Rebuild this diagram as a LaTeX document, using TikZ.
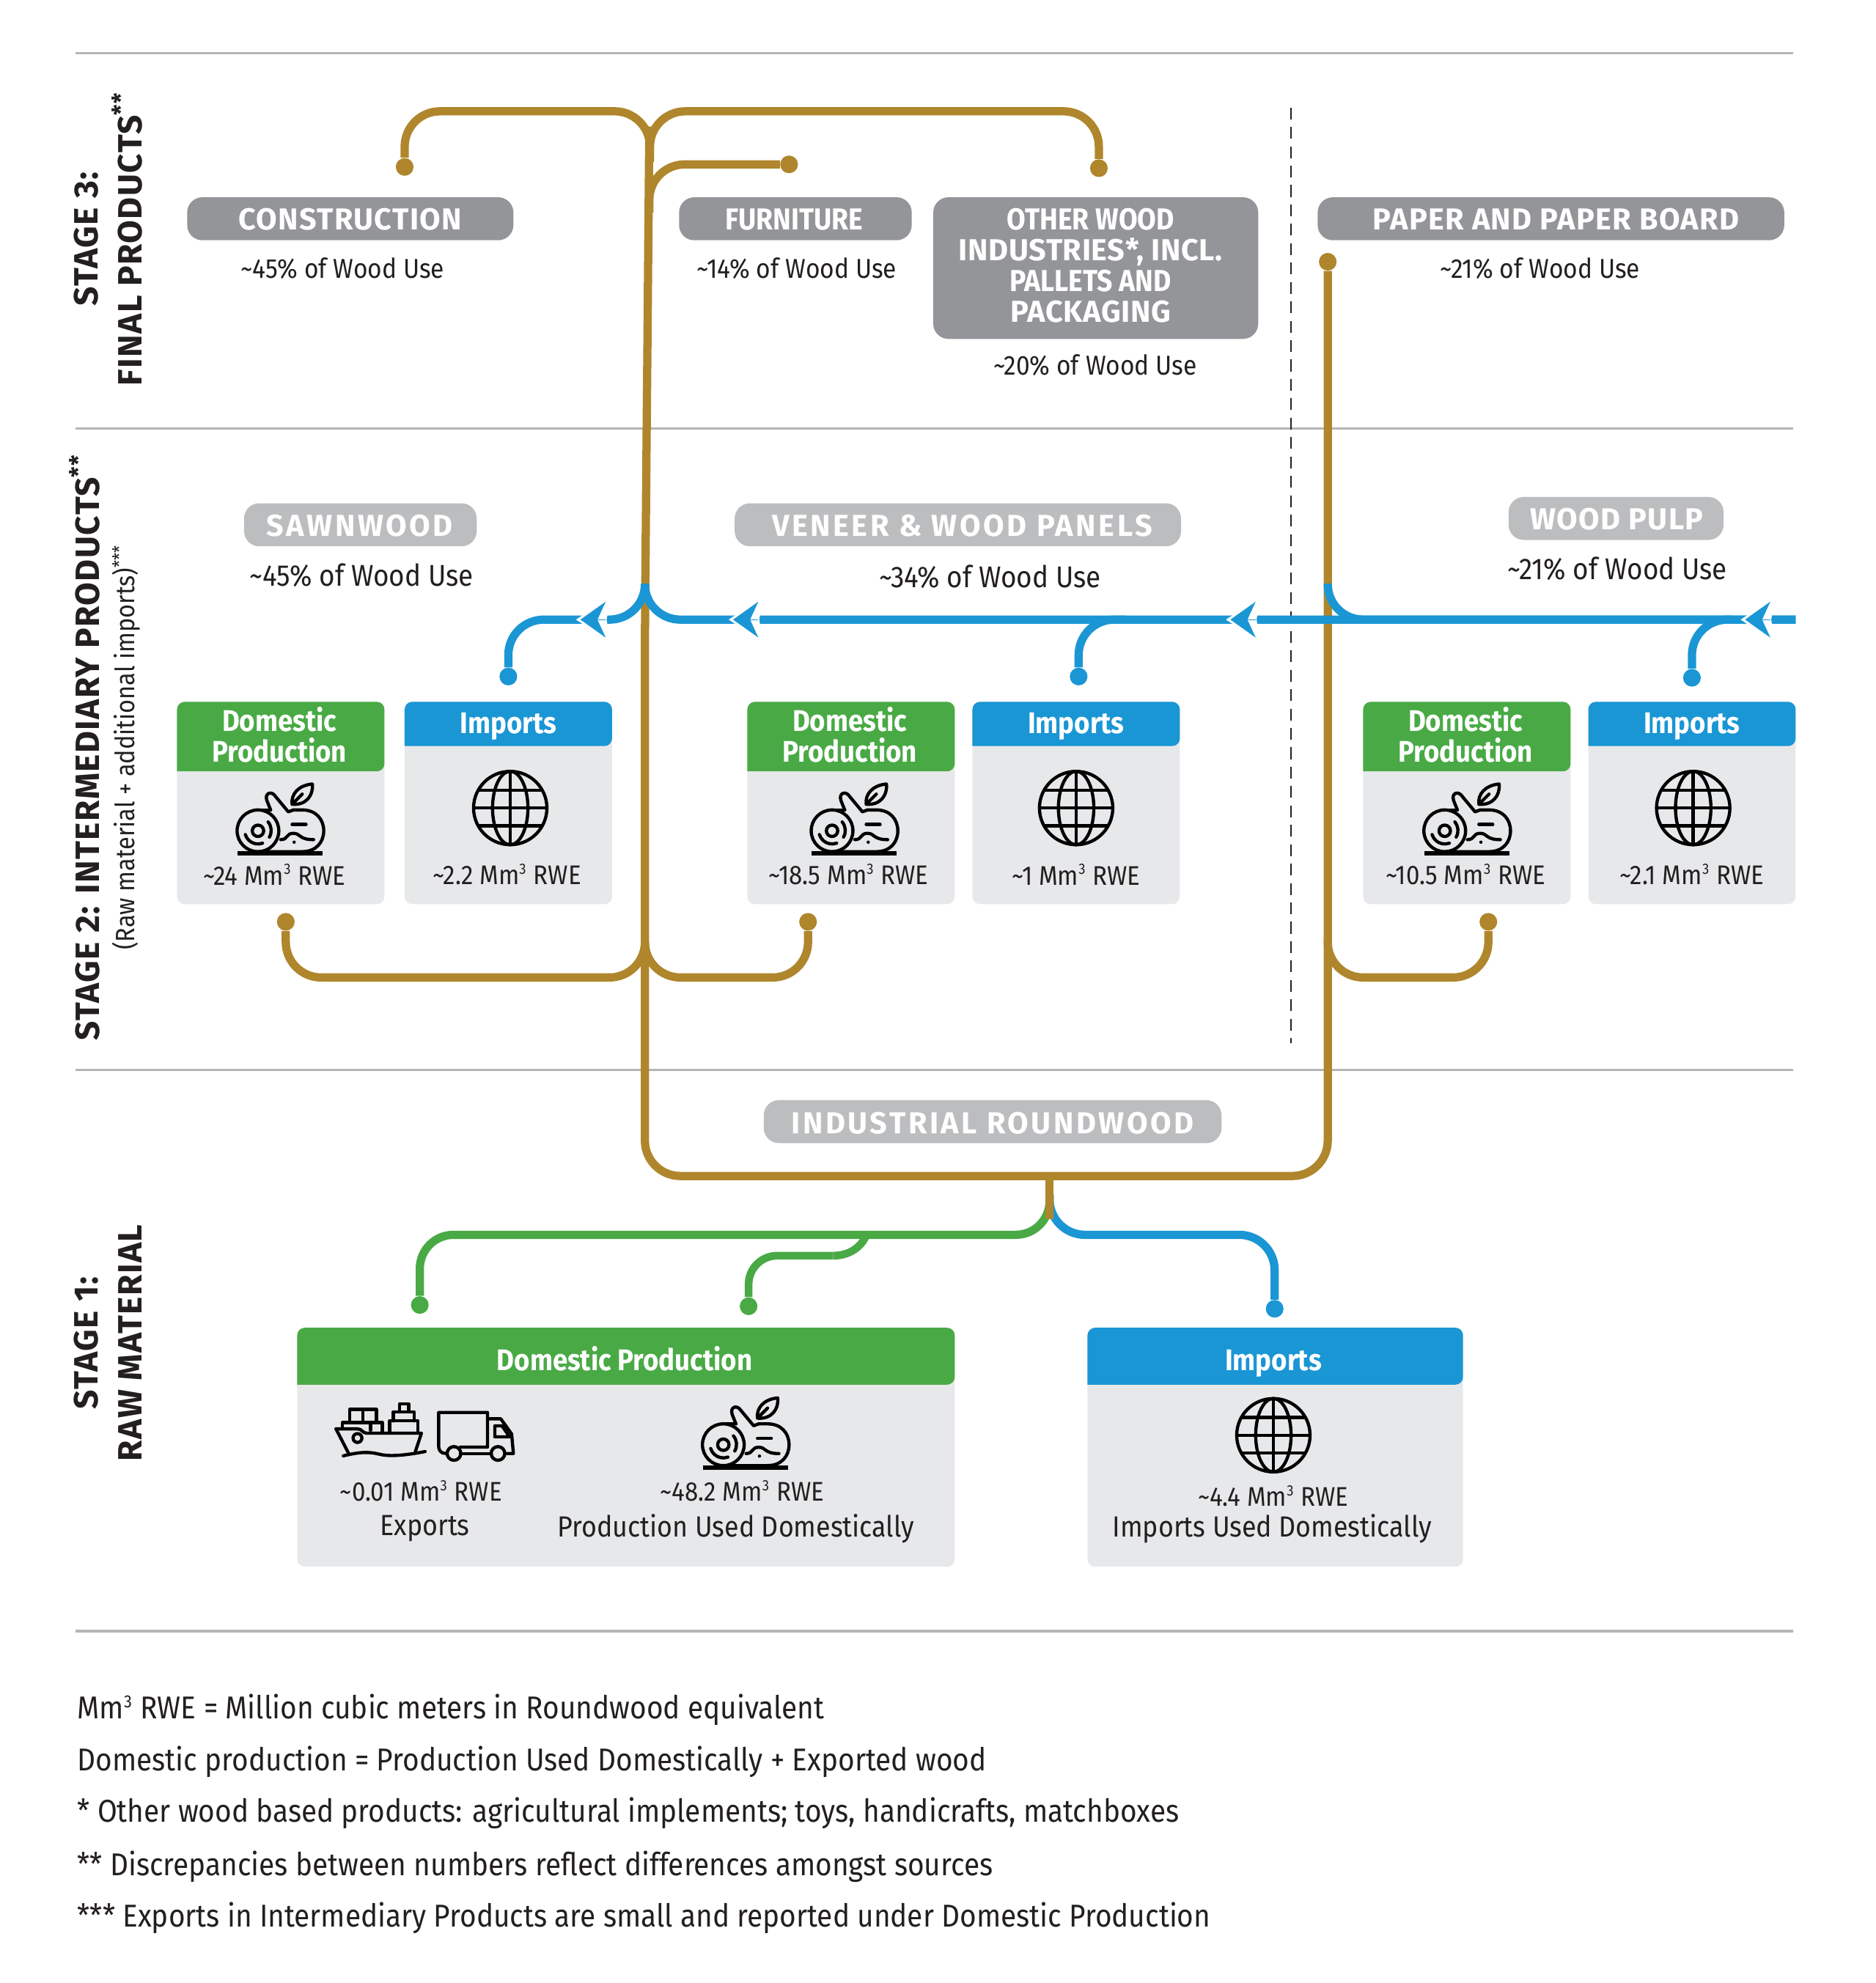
\documentclass[tikz,border=0pt]{standalone}
\usepackage{fontspec}
\setmainfont{Fira Sans}[FakeStretch=0.90]
\newfontfamily\pillfont{Fira Sans}[FakeStretch=1.0,LetterSpace=8.5]
\newfontfamily\capsfont{Fira Sans}[FakeStretch=1.0,LetterSpace=3.2]
\newfontfamily\otherfont{Fira Sans}[FakeStretch=1.0,LetterSpace=1.5]
\usetikzlibrary{arrows.meta}
\definecolor{goldLine}{HTML}{AF862C}
\definecolor{blueLine}{HTML}{1A96D5}
\definecolor{greenLine}{HTML}{49AA45}
\definecolor{pillDark}{HTML}{939598}
\definecolor{pillLight}{HTML}{BCBDBF}
\definecolor{cardGrey}{HTML}{E7E8EA}
\definecolor{ruleGrey}{HTML}{B4B5B7}
\definecolor{inkBlack}{HTML}{231F20}
\newcommand{\tld}{\textasciitilde}
\newcommand{\cubed}{\textsuperscript{\scalebox{0.8}{3}}}
\tikzset{
  every pic/.style={yscale=-1},
  ruleline/.style={ruleGrey,line width=1.5pt},
  goldpath/.style={goldLine,line width=4.9pt,rounded corners=21pt},
  bluepath/.style={blueLine,line width=4.9pt,rounded corners=21pt},
  greenpath/.style={greenLine,line width=4.9pt,rounded corners=20pt},
  halotip/.style={white,line width=0.2pt,shorten >=-2.6pt,-{Stealth[length=20.5pt,width=27pt,inset=2.4pt,line width=0pt]}},
  bluetip/.style={blueLine,line width=0.2pt,-{Stealth[length=15pt,width=21.3pt,inset=4.9pt,line width=0pt]}},
  golddot/.style={circle,fill=goldLine,inner sep=0pt,minimum size=10.5pt},
  bluedot/.style={circle,fill=blueLine,inner sep=0pt,minimum size=10.5pt},
  greendot/.style={circle,fill=greenLine,inner sep=0pt,minimum size=10.5pt},
  pilldark/.style={fill=pillDark,rounded corners=9pt},
  pilllight/.style={fill=pillLight,rounded corners=9pt},
  cardbody/.style={fill=cardGrey,rounded corners=4.5pt},
  pilltext/.style={text=white,font=\capsfont\fontsize{18}{18.2}\selectfont\bfseries,align=center,inner sep=0.75pt},
  narrowpill/.style={text=white,font=\fontsize{18}{18.2}\selectfont\bfseries,align=center,inner sep=0.75pt},
  spacedtext/.style={text=white,font=\pillfont\fontsize{18}{20}\selectfont\bfseries,inner sep=0.75pt},
  cardhead/.style={text=white,font=\fontsize{17.7}{18}\selectfont\bfseries,align=center,inner sep=0.75pt},
  valuetext/.style={text=inkBlack,font=\fontsize{16}{18}\selectfont,inner sep=0.75pt},
  bigtext/.style={text=inkBlack,font=\fontsize{17.8}{20}\selectfont,inner sep=0.75pt},
  labeltext/.style={text=inkBlack,font=\fontsize{17.3}{20}\selectfont,inner sep=0.75pt},
  usetext/.style={text=inkBlack,font=\fontsize{16.2}{18}\selectfont,inner sep=0.75pt},
  stagetext/.style={text=inkBlack,rotate=90,font=\capsfont\fontsize{20}{26}\selectfont\bfseries,align=center,inner sep=0.75pt},
  notetext/.style={text=inkBlack,anchor=west,font=\fontsize{18.75}{20}\selectfont,inner sep=0.75pt},
  iconline/.style={black,line width=1.9pt,line join=round,line cap=round},
  pics/globeicon/.style={code={
    \draw[iconline] (0,0) circle [x radius=29,y radius=29];
    \draw[iconline] (0,0) circle [x radius=14,y radius=29];
    \draw[iconline] (0,-29) -- (0,29);
    \draw[iconline] (-29,0) -- (29,0);
    \draw[iconline] (-25,-14) -- (25,-14);
    \draw[iconline] (-25,14) -- (25,14);
  }},
  pics/logicon/.style={code={
    \draw[iconline] (0,0) circle [radius=16.5];
    \draw[iconline] (0,0) circle [radius=4.5];
    \draw[iconline] (-10,3) arc [start angle=163,end angle=70,radius=10.5];
    \draw[iconline] (8,-7) arc [start angle=-40,end angle=30,radius=10.5];
    \draw[iconline] (0,-16.5) -- (10,-16.5);
    \draw[iconline] (28,-16.5) -- (35,-16.5) .. controls (46,-16.5) and (52,-9) .. (52,0) .. controls (52,9) and (46,16.5) .. (35,16.5) -- (0,16.5);
    \draw[iconline] (10,-16.5) -- (7,-24) .. controls (5,-30) and (11,-32) .. (14,-27) -- (24,-15) -- (28,-16.5);
    \draw[iconline] (27,-21) .. controls (26,-29) and (32,-36) .. (43,-37) .. controls (44,-28) and (38,-20) .. (27,-21) -- (35,-29);
    \draw[iconline] (27,-5) -- (38,-5);
    \draw[iconline] (18,7) .. controls (24,7) and (22,2) .. (28,2) .. controls (34,2) and (32,7) .. (44,7);
    \fill[black] (28.6,9) circle [radius=1.3];
    \draw[black,line width=2.6pt] (-16,18) -- (51,18);
  }},
  pics/shipicon/.style={code={
    \draw[iconline] (-34.3,0) -- (-17,0) .. controls (-14,0) and (-13,3.4) .. (-10,3.4) -- (33.3,3.4) -- (28.5,17.8);
    \draw[iconline] (-34.3,0) -- (-24.6,18.8);
    \draw[iconline] (-28.5,21.3) .. controls (-15,18) and (-8,18) .. (0,20) .. controls (8,22) and (20,21) .. (36.2,17.9);
    \draw[iconline] (-17.3,7.2) circle [radius=3.5];
    \draw[iconline] (-29.1,0) -- (-29.1,-5) -- (2.4,-5) -- (2.4,3.4);
    \draw[iconline] (-7,1) -- (-7,-5);
    \draw[iconline] (-23.6,-5) -- (-23.6,-15.4) -- (-2.4,-15.4) -- (-2.4,-5);
    \draw[iconline] (-13,-15.4) -- (-13,-5);
    \draw[iconline] (8.2,3.4) -- (8.2,-6.3) -- (30.5,-6.3) -- (30.5,3.4);
    \draw[iconline] (11,-6.3) -- (11,-13.5) -- (27.6,-13.5) -- (27.6,-6.3);
    \draw[iconline] (16,-13.5) -- (16,-19.8) -- (23.1,-19.8) -- (23.1,-13.5);
  }},
  pics/truckicon/.style={code={
    \draw[iconline] (-22,19.5) -- (-25,19) .. controls (-27,18) and (-28.1,16) .. (-28.1,14) -- (-28.1,-13) -- (10.5,-13) -- (10.5,14.4) -- (-11,14.4);
    \draw[iconline] (10.5,-8) -- (21,-8) -- (29.6,4) -- (31,19.5) -- (25,19.5);
    \draw[iconline] (-11,19.5) -- (13,19.5);
    \draw[iconline] (16.3,-2.4) -- (22,-2.4) -- (28,6.3) -- (16.3,6.3) -- cycle;
    \draw[iconline] (-16,19.4) circle [radius=5.4];
    \draw[iconline] (18.8,19.4) circle [radius=5.4];
  }}
}
\begin{document}
\begin{tikzpicture}[x=0.75pt,y=0.75pt,yscale=-1,xscale=1]
\useasboundingbox (0,0) rectangle (1483,1568.2);

% Rules
\draw[ruleline] (60,42) -- (1418,42);
\draw[ruleline] (60,339) -- (1418,339);
\draw[ruleline] (60,846) -- (1418,846);
\draw[ruleline] (60,1290) -- (1418,1290);
\draw[inkBlack,line width=1pt,dash pattern=on 7pt off 4.5pt] (1021,85) -- (1021,825);

% Free ends of the connectors
\coordinate (trunkTop) at (514,88);
\coordinate (trunkMid) at (514,128);
\coordinate (trunkFurn) at (513.5,168);
\coordinate (trunkJoin) at (510,745);
\coordinate (trunkStraight) at (510,500);
\coordinate (trunkHigh) at (513.5,100);
\coordinate (bracketLeft) at (510,930);
\coordinate (bracketRight) at (1050,930);
\coordinate (stemTop) at (830,930);
\coordinate (stemFork) at (830,945);
\coordinate (stemEnd) at (830,964);
\coordinate (stemLow) at (830,976.5);
\coordinate (pulpJoin) at (1050,742);
\coordinate (blueRight) at (1420,490);
\coordinate (blueMid) at (510,490);
\coordinate (blueJoinMid) at (510,461.5);
\coordinate (blueJoinPulp) at (1050,461.5);
\coordinate (tipPulp) at (1380,490);
\coordinate (tipVeneer) at (973,490);
\coordinate (tipSaw) at (579.7,490);
\coordinate (tipImp) at (459,490);
\coordinate (backPulp) at (1400,490);
\coordinate (backVeneer) at (993,490);
\coordinate (backSaw) at (599.7,490);
\coordinate (backImp) at (479,490);
\coordinate (joinVeneer) at (890,490);
\coordinate (joinPulp) at (1370,490);
\coordinate (greenBranch) at (685,977);
\coordinate (greenBend) at (659,993);

% End dots
\node[golddot] (dotConstruction) at (320,132) {};
\node[golddot] (dotFurniture) at (624,130) {};
\node[golddot] (dotOther) at (869,133) {};
\node[golddot] (dotPaper) at (1050,207) {};
\node[golddot] (dotSawDom) at (226,729) {};
\node[golddot] (dotVenDom) at (639,729) {};
\node[golddot] (dotPulpDom) at (1177,729) {};
\node[bluedot] (dotSawImp) at (402,535) {};
\node[bluedot] (dotVenImp) at (853,535) {};
\node[bluedot] (dotPulpImp) at (1338,536) {};
\node[bluedot] (dotRawImp) at (1008,1035) {};
\node[greendot] (dotExport) at (332,1032) {};
\node[greendot] (dotRawDom) at (592,1033) {};

% Gold connectors
\draw[goldpath] (dotConstruction) |- (trunkTop) -- (trunkMid);
\draw[goldpath] (dotOther) |- (trunkTop) -- (trunkMid);
\draw[goldpath] (dotFurniture) -| (trunkFurn);
\draw[goldpath] (dotSawDom) |- (510,773) -- (trunkJoin);
\draw[goldpath] (dotVenDom) |- (510,773) -- (trunkJoin);
\draw[goldpath] (dotPulpDom) |- (1050,773) -- (pulpJoin);
\draw[goldpath] (trunkHigh) -- (trunkStraight) -- (bracketLeft) -- (bracketRight) -- (dotPaper);

% Green connectors
\draw[greenpath] (stemFork) -- (stemLow) -| (dotExport);
\draw[greenLine,line width=4.6pt] (greenBranch) .. controls (681,986) and (672,993) .. (greenBend);
\draw[greenLine,line width=4.6pt,rounded corners=17pt] (greenBend) -| (dotRawDom);

% Blue connectors
\draw[bluepath] (stemFork) -- (stemLow) -| (dotRawImp);
\draw[bluepath] (dotSawImp) |- (blueMid) -- (blueJoinMid);
\draw[bluepath] (blueJoinMid) |- (blueRight);
\draw[bluepath] (blueJoinPulp) |- (blueRight);
\draw[bluepath] (dotVenImp) |- (joinVeneer);
\draw[bluepath] (dotPulpImp) |- (joinPulp);

% Arrowheads on the blue line
\draw[halotip] (backImp) -- (tipImp);
\draw[bluetip] (backImp) -- (tipImp);
\draw[halotip] (backSaw) -- (tipSaw);
\draw[bluetip] (backSaw) -- (tipSaw);
\draw[halotip] (backVeneer) -- (tipVeneer);
\draw[bluetip] (backVeneer) -- (tipVeneer);
\draw[halotip] (backPulp) -- (tipPulp);
\draw[bluetip] (backPulp) -- (tipPulp);

% Gold stem over the fork
\draw[goldLine,line width=4.9pt] (stemTop) -- (stemEnd);

% Stage labels
\node[stagetext] (stageThree) at (85.5,189) {STAGE 3:\\FINAL PRODUCTS\textsuperscript{**}};
\node[stagetext] (stageTwo) at (67,591) {STAGE 2: INTERMEDIARY PRODUCTS\textsuperscript{**}};
\node[text=inkBlack,rotate=90,font=\fontsize{15.7}{18}\selectfont,inner sep=0.75pt] (stageTwoNote) at (100,591) {(Raw material + additional imports)\textsuperscript{***}};
\node[stagetext] (stageOne) at (85.5,1062) {STAGE 1:\\RAW MATERIAL};

% Stage 3 pills
\fill[pilldark] (148,156) rectangle (406,190);
\fill[pilldark] (537,156) rectangle (721,190);
\fill[pilldark] (738,156) rectangle (995,268);
\fill[pilldark] (1042,156) rectangle (1411,190);
\node[pilltext] (pillConstruction) at (277,173.5) {CONSTRUCTION};
\node[narrowpill] (pillFurniture) at (628,173.5) {FURNITURE};
\node[narrowpill] (pillOther) at (862.5,210) {OTHER WOOD\\{\otherfont INDUSTRIES*, INCL.}\\PALLETS AND\\{\otherfont PACKAGING}};
\node[pilltext] (pillPaper) at (1230.5,173.5) {PAPER AND PAPER BOARD};
\node[usetext] (useConstruction) at (271,212) {\tld45\% of Wood Use};
\node[usetext] (useFurniture) at (630,212) {\tld14\% of Wood Use};
\node[usetext] (useOther) at (866,289) {\tld20\% of Wood Use};
\node[usetext] (usePaper) at (1218,212) {\tld21\% of Wood Use};

% Stage 2 pills
\fill[pilllight] (193,398) rectangle (377,432);
\fill[pilllight] (581,398) rectangle (934,432);
\fill[pilllight] (1193,393) rectangle (1363,427);
\node[spacedtext] (pillSaw) at (284.5,415.5) {SAWNWOOD};
\node[spacedtext] (pillVeneer) at (761,415.5) {VENEER \& WOOD PANELS};
\node[pilltext] (pillPulp) at (1278.5,410.5) {WOOD PULP};
\node[bigtext] (useSaw) at (286,455) {\tld45\% of Wood Use};
\node[bigtext] (useVeneer) at (783,456) {\tld34\% of Wood Use};
\node[bigtext] (usePulp) at (1279,450) {\tld21\% of Wood Use};

% Stage 2 cards
\fill[cardbody] (140,555) rectangle (304,715);
\fill[cardbody] (320,555) rectangle (484,715);
\fill[cardbody] (591,555) rectangle (755,715);
\fill[cardbody] (769,555) rectangle (933,715);
\fill[cardbody] (1078,555) rectangle (1242,715);
\fill[cardbody] (1256,555) rectangle (1420,715);
\fill[greenLine] (140,610) [rounded corners=4.5pt] -- (140,555) -- (304,555) -- (304,610) [sharp corners] -- cycle;
\fill[blueLine] (320,590) [rounded corners=4.5pt] -- (320,555) -- (484,555) -- (484,590) [sharp corners] -- cycle;
\fill[greenLine] (591,610) [rounded corners=4.5pt] -- (591,555) -- (755,555) -- (755,610) [sharp corners] -- cycle;
\fill[blueLine] (769,590) [rounded corners=4.5pt] -- (769,555) -- (933,555) -- (933,590) [sharp corners] -- cycle;
\fill[greenLine] (1078,610) [rounded corners=4.5pt] -- (1078,555) -- (1242,555) -- (1242,610) [sharp corners] -- cycle;
\fill[blueLine] (1256,590) [rounded corners=4.5pt] -- (1256,555) -- (1420,555) -- (1420,590) [sharp corners] -- cycle;
\node[cardhead] (headSawDom) at (221,581) {Domestic\\Production};
\node[cardhead] (headSawImp) at (402,574.5) {Imports};
\node[cardhead] (headVenDom) at (672,581) {Domestic\\Production};
\node[cardhead] (headVenImp) at (851,574.5) {Imports};
\node[cardhead] (headPulpDom) at (1159,581) {Domestic\\Production};
\node[cardhead] (headPulpImp) at (1338,574.5) {Imports};
\pic at (204,657) {logicon};
\pic at (403.5,639) {globeicon};
\pic at (658,657) {logicon};
\pic at (851,639) {globeicon};
\pic at (1142.5,657) {logicon};
\pic at (1339,639) {globeicon};
\node[valuetext] (valueSawDom) at (217,691.5) {\tld24 Mm\cubed{} RWE};
\node[valuetext] (valueSawImp) at (401,691.5) {\tld2.2 Mm\cubed{} RWE};
\node[valuetext] (valueVenDom) at (671,691.5) {\tld18.5 Mm\cubed{} RWE};
\node[valuetext] (valueVenImp) at (851,691.5) {\tld1 Mm\cubed{} RWE};
\node[valuetext] (valuePulpDom) at (1159,691.5) {\tld10.5 Mm\cubed{} RWE};
\node[valuetext] (valuePulpImp) at (1338,691.5) {\tld2.1 Mm\cubed{} RWE};

% Stage 1
\fill[pilllight] (604,870) rectangle (966,904);
\node[spacedtext] (pillRound) at (785,888) {INDUSTRIAL ROUNDWOOD};
\fill[cardbody] (235,1050) rectangle (755,1239);
\fill[cardbody] (860,1050) rectangle (1157,1239);
\fill[greenLine] (235,1095) [rounded corners=4.5pt] -- (235,1050) -- (755,1050) -- (755,1095) [sharp corners] -- cycle;
\fill[blueLine] (860,1095) [rounded corners=4.5pt] -- (860,1050) -- (1157,1050) -- (1157,1095) [sharp corners] -- cycle;
\node[cardhead] (headRawDom) at (494,1074.5) {Domestic Production};
\node[cardhead] (headRawImp) at (1007,1078) {Imports};
\pic at (300,1130) {shipicon};
\pic at (375,1130) {truckicon};
\pic at (572,1142.5) {logicon};
\pic at (1007,1135) {globeicon};
\node[valuetext] (valueExport) at (333,1179) {\tld0.01 Mm\cubed{} RWE};
\node[labeltext] (labelExport) at (336,1209) {Exports};
\node[valuetext] (valueRawDom) at (587,1179) {\tld48.2 Mm\cubed{} RWE};
\node[labeltext] (labelRawDom) at (582,1209) {Production Used Domestically};
\node[valuetext] (valueRawImp) at (1007,1183) {\tld4.4 Mm\cubed{} RWE};
\node[labeltext] (labelRawImp) at (1006,1209) {Imports Used Domestically};

% Notes
\node[notetext] (noteOne) at (60,1352) {Mm\cubed{} RWE = Million cubic meters in Roundwood equivalent};
\node[notetext] (noteTwo) at (60,1393) {Domestic production = Production Used Domestically + Exported wood};
\node[notetext] (noteThree) at (60,1434) {* Other wood based products: agricultural implements; toys, handicrafts, matchboxes};
\node[notetext] (noteFour) at (60,1476) {** Discrepancies between numbers reflect differences amongst sources};
\node[notetext] (noteFive) at (60,1517) {*** Exports in Intermediary Products are small and reported under Domestic Production};

\end{tikzpicture}
\end{document}
